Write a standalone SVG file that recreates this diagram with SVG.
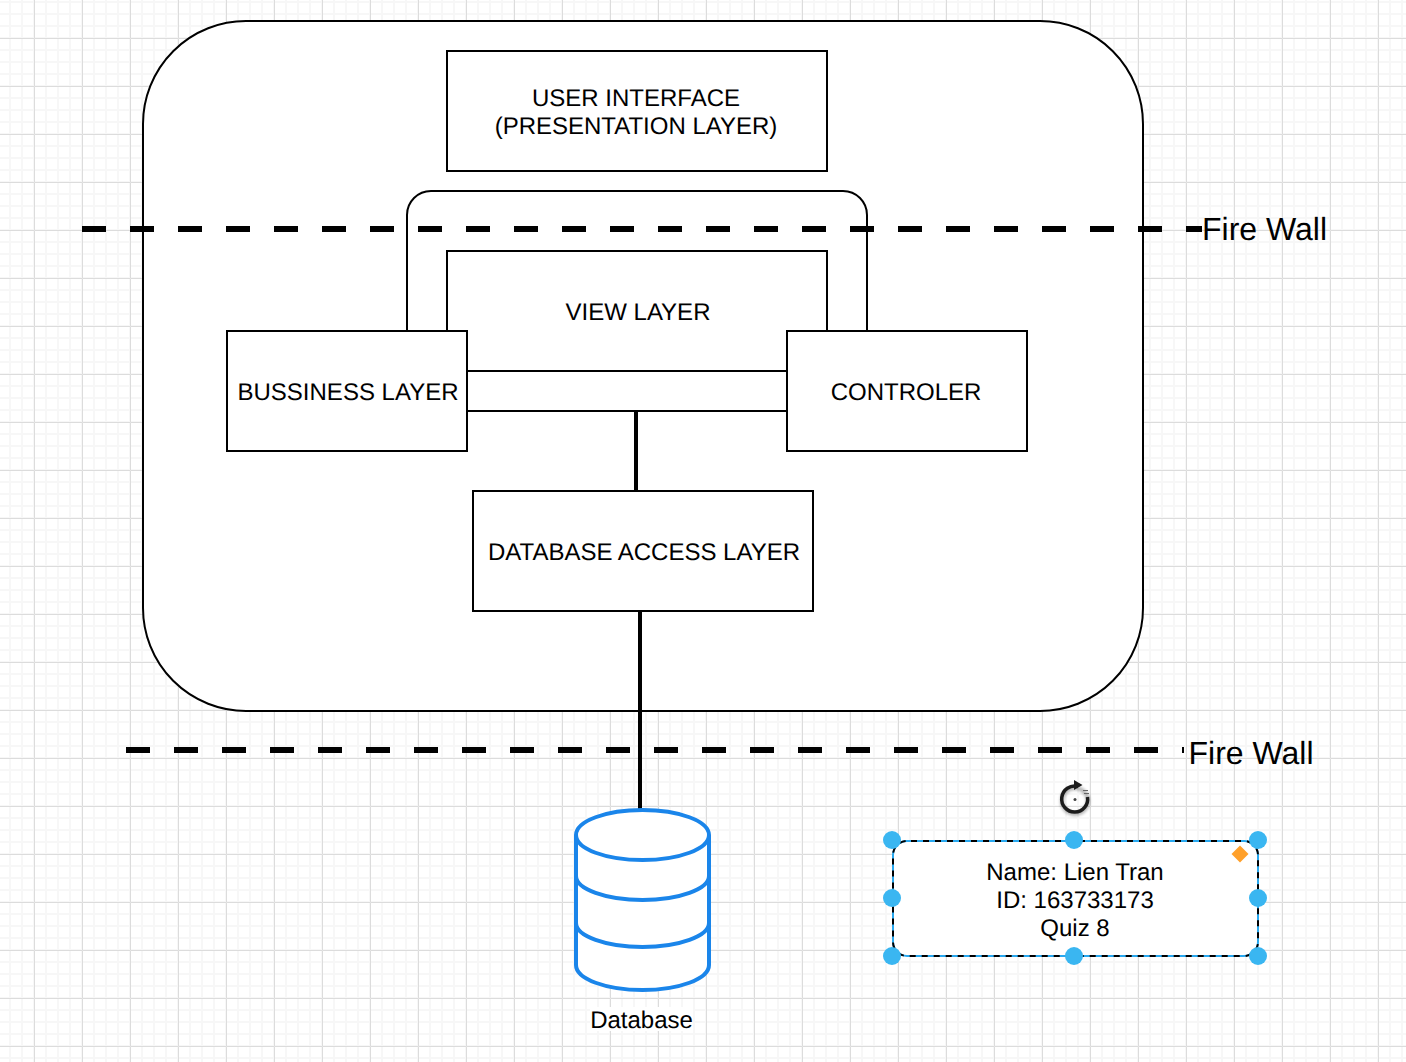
<svg xmlns="http://www.w3.org/2000/svg" width="1406" height="1062" viewBox="0 0 1406 1062">
<style>
text{text-rendering:geometricPrecision}
.box{fill:#fff;stroke:#000;stroke-width:2}
.t{font-family:"Liberation Sans",Arial,Helvetica,sans-serif;font-size:24px;fill:#000;text-anchor:middle}
.fw{font-family:"Liberation Sans",Arial,Helvetica,sans-serif;font-size:32px;fill:#000}
.wire{fill:none;stroke:#000;stroke-width:2}
.thick{fill:none;stroke:#000;stroke-width:4}
.dash{fill:none;stroke:#000;stroke-width:6;stroke-dasharray:24 24}
.db{fill:none;stroke:#1a85ea;stroke-width:4;stroke-linejoin:round}
.h{fill:#3ab6f1}
</style>
<defs>
<pattern id="minor" width="12" height="12" patternUnits="userSpaceOnUse" x="9" y="1"><path d="M0 1H12M1 0V12" fill="none" stroke="#f7f7f7" stroke-width="2"/></pattern>
<pattern id="major" width="48" height="48" patternUnits="userSpaceOnUse" x="34" y="38"><path d="M48 .5H.5V48" fill="none" stroke="#dcdcdc" stroke-width="1"/></pattern>
<filter id="soft" x="-30%" y="-30%" width="160%" height="160%"><feGaussianBlur stdDeviation="1.600"/></filter>
</defs>
<g id="grid"><rect width="1406" height="1062" fill="#fff"/><rect width="1406" height="1062" fill="url(#minor)"/><rect width="1406" height="1062" fill="url(#major)"/></g>
<g id="container"><rect x="143" y="21" width="1000" height="690" rx="103" ry="103" class="box"/></g>
<g id="user-interface"><rect x="447" y="51" width="380" height="120" class="box"/><text class="t" x="636" y="106">USER INTERFACE</text><text class="t" x="636" y="134">(PRESENTATION LAYER)</text></g>
<g id="view-layer"><rect x="447" y="251" width="380" height="120" class="box"/><text class="t" x="638" y="320">VIEW LAYER</text></g>
<g id="connectors">
<path class="wire" d="M407 331V215a24 24 0 0 1 24-24H843a24 24 0 0 1 24 24V331"/>
<path class="wire" d="M467 411H787"/>
<path class="thick" d="M636 411V491"/>
<path class="thick" d="M640 611V810"/>
</g>
<g id="business-layer"><rect x="227" y="331" width="240" height="120" class="box"/><text class="t" x="348" y="400">BUSSINESS LAYER</text></g>
<g id="controller"><rect x="787" y="331" width="240" height="120" class="box"/><text class="t" x="906" y="400">CONTROLER</text></g>
<g id="database-access"><rect x="473" y="491" width="340" height="120" class="box"/><text class="t" x="644" y="560">DATABASE ACCESS LAYER</text></g>
<g id="firewall-top"><path class="dash" d="M82 229H1202"/><text class="fw" x="1202" y="240">Fire Wall</text></g>
<g id="firewall-bottom"><path class="dash" d="M126 750H1184"/><text class="fw" x="1188.500" y="764">Fire Wall</text></g>
<g id="database">
<path d="M576 835C576 821 606 810 642.500 810S709 821 709 835V965C709 979 679 990 642.500 990S576 979 576 965Z" fill="#fff" stroke="none"/>
<path class="db" d="M576 835C576 821 606 810 642.500 810S709 821 709 835V965C709 979 679 990 642.500 990S576 979 576 965Z"/>
<path class="db" d="M576 835C576 849 606 860 642.500 860S709 849 709 835"/>
<path class="db" d="M576 876C576 889 606 900 642.500 900S709 889 709 876"/>
<path class="db" d="M576 923C576 936 606 947 642.500 947S709 936 709 923"/>
<rect x="590" y="1007" width="103" height="24" fill="#fff"/>
<text class="t" x="641.500" y="1028">Database</text>
</g>
<g id="note">
<rect x="893" y="841" width="365" height="115" rx="14" ry="14" fill="#fff" stroke="#29a8ef" stroke-width="2"/>
<rect x="893" y="841" width="365" height="115" rx="14" ry="14" fill="none" stroke="#000" stroke-width="2" stroke-dasharray="6 6" stroke-dashoffset="-4"/>
<text class="t" x="1075" y="880">Name: Lien Tran</text><text class="t" x="1075" y="908">ID: 163733173</text><text class="t" x="1075" y="936">Quiz 8</text>
</g>
<g id="selection-handles">
<circle class="h" cx="892" cy="840" r="9"/><circle class="h" cx="1074" cy="840" r="9"/><circle class="h" cx="1258" cy="840" r="9"/>
<circle class="h" cx="892" cy="898" r="9"/><circle class="h" cx="1258" cy="898" r="9"/>
<circle class="h" cx="892" cy="956" r="9"/><circle class="h" cx="1074" cy="956" r="9"/><circle class="h" cx="1258" cy="956" r="9"/>
<path d="M1240 845.500L1248.500 854 1240 862.500 1231.500 854Z" fill="#ffa02a"/>
</g>
<g id="rotate-handle">
<circle cx="1075" cy="801" r="13" fill="none" stroke="#000" stroke-width="4" opacity=".3" filter="url(#soft)"/>
<path d="M1078 786.500A13 13 0 1 0 1087.500 797" fill="none" stroke="#1c1c1c" stroke-width="3.500"/>
<path d="M1074 780L1082.500 785 1074 790Z" fill="#1c1c1c"/>
<path d="M1083 790.500h5M1084 793.500h5" stroke="#666" stroke-width="1.200"/>
<circle cx="1075" cy="799.500" r="1.500" fill="#444"/>
</g>
</svg>
